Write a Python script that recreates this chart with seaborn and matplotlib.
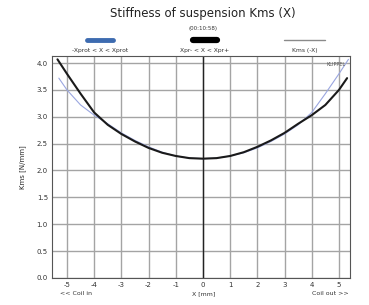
import matplotlib
matplotlib.use("Agg")
import matplotlib.pyplot as plt
import seaborn as sns
import pandas as pd
from matplotlib.ticker import MultipleLocator

# displacement [mm] and stiffness [N/mm]
x_mm = [-5.35, -5.0, -4.5, -4.0, -3.5, -3.0, -2.5, -2.0, -1.5, -1.0, -0.5, 0.0,
        0.5, 1.0, 1.5, 2.0, 2.5, 3.0, 3.5, 4.0, 4.5, 5.0, 5.3]
kms_x = [4.07, 3.80, 3.43, 3.08, 2.85, 2.68, 2.54, 2.42, 2.33, 2.27, 2.23, 2.22,
         2.23, 2.27, 2.34, 2.44, 2.56, 2.70, 2.87, 3.03, 3.22, 3.50, 3.72]

# mirrored curve Kms(-X)
xm_mm = [-5.3, -5.0, -4.5, -4.0, -3.5, -3.0, -2.5, -2.0, -1.5, -1.0, -0.5, 0.0,
         0.5, 1.0, 1.5, 2.0, 2.5, 3.0, 3.5, 4.0, 4.5, 5.0, 5.35]
kms_mx = [3.72, 3.50, 3.22, 3.03, 2.87, 2.70, 2.56, 2.44, 2.34, 2.27, 2.23, 2.22,
          2.23, 2.27, 2.33, 2.42, 2.54, 2.68, 2.85, 3.08, 3.43, 3.80, 4.07]

x_ticks = [-5, -4, -3, -2, -1, 0, 1, 2, 3, 4, 5]
y_ticks = [0.0, 0.5, 1.0, 1.5, 2.0, 2.5, 3.0, 3.5, 4.0]

legend_labels = ["-Xprot < X < Xprot", "Xpr- < X < Xpr+", "Kms (-X)"]

df = pd.DataFrame({"X": x_mm, "Kms": kms_x})
dfm = pd.DataFrame({"X": xm_mm, "Kms": kms_mx})

sns.set_style("white")
plt.rcParams['font.family'] = ['DejaVu Sans']

fig = plt.figure(figsize=(3.69, 3.05), dpi=100)
ax = fig.add_axes([0.141, 0.089, 0.807, 0.727])

sns.lineplot(data=dfm, x="X", y="Kms", ax=ax, color="#9aa6e0", lw=0.8)
sns.lineplot(data=df, x="X", y="Kms", ax=ax, color="#1a1a1a", lw=1.5)

ax.set_xlim(-5.55, 5.4)
ax.set_ylim(0, 4.13)
ax.set_xticks(x_ticks)
ax.set_yticks(y_ticks)
ax.set_xticklabels([str(t) for t in x_ticks])
ax.set_yticklabels([f"{t:.1f}" for t in y_ticks])
ax.xaxis.set_minor_locator(MultipleLocator(0.2))
ax.yaxis.set_minor_locator(MultipleLocator(0.1))
ax.tick_params(which="both", direction="in", labelsize=5, colors="#333333",
               pad=3)
ax.tick_params(which="major", length=3)
ax.tick_params(which="minor", length=1.5)
ax.grid(True, which="major", color="#a4a4a4", lw=1.0)
ax.axvline(0, color="#222222", lw=1.0, zorder=1)
for s in ax.spines.values():
    s.set_color("#555555")
    s.set_linewidth(0.8)
ax.set_xlabel("")
ax.set_ylabel("Kms [N/mm]", fontsize=5, labelpad=8)

# x axis captions under tick labels
fig.text(0.205, 0.033, "<< Coil in", fontsize=4.5, ha="center", color="#333333")
fig.text(0.551, 0.033, "X [mm]", fontsize=4.5, ha="center", color="#333333")
fig.text(0.895, 0.033, "Coil out >>", fontsize=4.5, ha="center", color="#333333")

ax.text(0.985, 0.975, "KLIPPEL", transform=ax.transAxes, fontsize=3.5,
        ha="right", va="top", color="#555555")

# title and legend strip
fig.text(0.55, 0.943, "Stiffness of suspension Kms (X)", fontsize=8.5,
         ha="center", color="#222222")
fig.text(0.55, 0.903, "(00:10:58)", fontsize=4, ha="center", color="#333333")

leg_x = [0.27, 0.555, 0.825]
fig.add_artist(plt.Line2D([leg_x[0] - 0.035, leg_x[0] + 0.035], [0.868, 0.868],
                          color="#3d6bb0", lw=3.5, transform=fig.transFigure))
fig.add_artist(plt.Line2D([leg_x[1] - 0.033, leg_x[1] + 0.033], [0.868, 0.868],
                          color="#000000", lw=4.5, transform=fig.transFigure))
fig.add_artist(plt.Line2D([leg_x[2] - 0.055, leg_x[2] + 0.055], [0.868, 0.868],
                          color="#8a8a8a", lw=1.0, transform=fig.transFigure))
for lx, lab in zip(leg_x, legend_labels):
    fig.text(lx, 0.83, lab, fontsize=4.3, ha="center", color="#333333")

fig.savefig("out.png", dpi=100)
